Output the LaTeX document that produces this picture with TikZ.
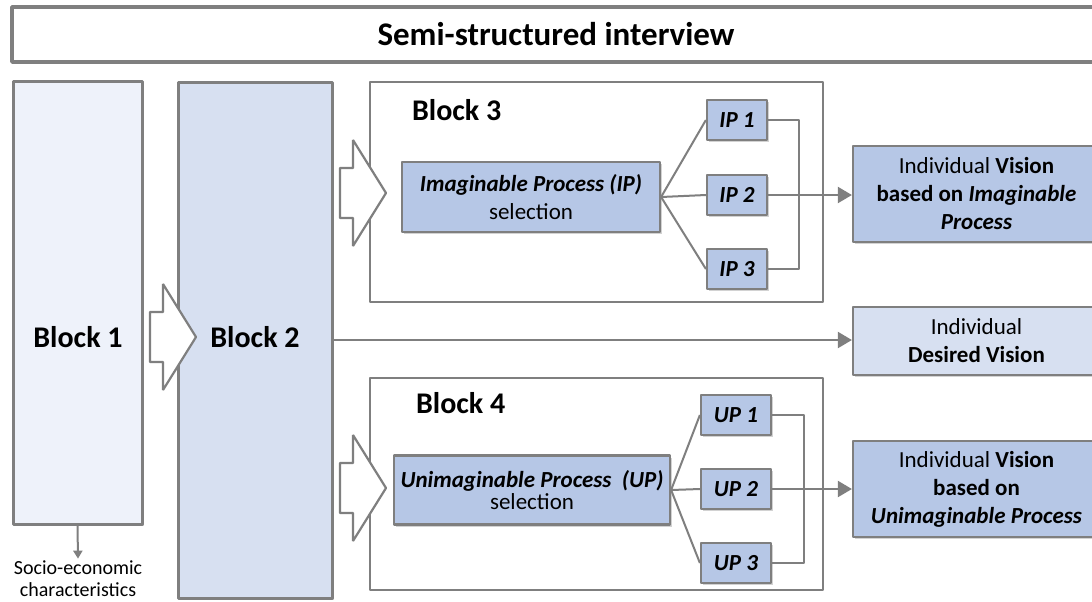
\documentclass[tikz,border=0pt]{standalone}
\usepackage{fontspec}
\setmainfont{Carlito}
\usepackage{tikz}
\usetikzlibrary{arrows.meta,shadows}

\definecolor{linecol}{HTML}{7F7F7F}
\definecolor{palefill}{HTML}{EEF2FA}
\definecolor{lightfill}{HTML}{D7E0F1}
\definecolor{midfill}{HTML}{B6C7E6}

\begin{document}
\begin{tikzpicture}[x=0.5pt,y=-0.5pt,>={Triangle[width=8pt,length=7pt]},line join=bevel,
  boxshadow/.style={drop shadow={shadow xshift=1.2pt,shadow yshift=-1.2pt,opacity=0.35}},
  blockbox/.style={draw=linecol,line width=1.5pt,inner sep=0pt,boxshadow},
  framebox/.style={draw=linecol,line width=1.2pt,fill=white,inner sep=0pt},
  procbox/.style={draw=linecol,line width=1.1pt,fill=midfill,inner sep=0pt,align=center,boxshadow,
    font=\fontsize{11.5}{14}\selectfont},
  smallbox/.style={procbox,minimum height=20pt,font=\fontsize{11.5}{14}\selectfont\bfseries\itshape},
  visionbox/.style={procbox,minimum width=123.5pt},
  blocklabel/.style={font=\fontsize{15}{17}\selectfont\bfseries},
  link/.style={draw=linecol,line width=1pt},
  bigarrow/.style={draw=linecol,line width=1.1pt,fill=white}]
\useasboundingbox (0,0) rectangle (1092,601);

% Node: title
\node[blockbox,fill=white,line width=1.6pt,minimum width=544pt,minimum height=27.5pt,
  font=\fontsize{16.5}{18}\selectfont\bfseries] (title) at (556,34.5) {Semi-structured interview};

% Node: b1
\node[blockbox,fill=palefill,minimum width=64.5pt,minimum height=221.5pt] (b1) at (77.5,302.5) {};
\node[blocklabel] (b1lbl) at (78,337) {Block 1};

% Node: b2
\node[blockbox,fill=lightfill,minimum width=77pt,minimum height=258pt] (b2) at (255,340) {};
\node[blocklabel] (b2lbl) at (255,337) {Block 2};

% Node: socio
\node[align=center,inner sep=1pt,font=\fontsize{10}{11}\selectfont] (socio) at (78,579) {Socio-economic\\characteristics};
\draw[link,-{Triangle[width=4.5pt,length=4pt]}] (b1.south) -- (socio.north);

% Node: b3
\node[framebox,minimum width=226.5pt,minimum height=110pt] (b3) at (596.5,192) {};
\node[blocklabel,anchor=west] (b3lbl) at (405,110) {Block 3};

% Node: b4
\node[framebox,minimum width=226.5pt,minimum height=106pt] (b4) at (596.5,484) {};
\node[blocklabel,anchor=west] (b4lbl) at (409,403) {Block 4};

% Node: ipsel
\node[procbox,minimum width=129pt,minimum height=35pt] (ipsel) at (531,197)
  {\textbf{\textit{Imaginable Process (IP)}}\\selection};

% Node: upsel
\node[procbox,minimum width=138pt,minimum height=34.5pt,font=\fontsize{11.5}{9.5}\selectfont] (upsel) at (532,490)
  {\textbf{\textit{Unimaginable Process~ (UP)}}\\selection};

% Nodes: ip1..ip3, up1..up3
\foreach \i/\y in {1/120,2/195,3/269}
  \node[smallbox,minimum width=30pt] (ip\i) at (737,\y) {IP \i};
\foreach \i/\y in {1/415,2/489,3/563}
  \node[smallbox,minimum width=35pt] (up\i) at (736,\y) {UP \i};

% Node: visip
\node[visionbox,minimum height=48pt] (visip) at (976.5,194)
  {Individual \textbf{Vision}\\\textbf{based on \textit{Imaginable}}\\\textbf{\textit{Process}}};

% Node: desired
\node[visionbox,fill=lightfill,minimum height=34pt] (desired) at (976.5,341)
  {Individual\\\textbf{Desired Vision}};

% Node: visup
\node[visionbox,minimum height=48pt] (visup) at (976.5,489)
  {Individual \textbf{Vision}\\\textbf{based on}\\\textbf{\textit{Unimaginable Process}}};

% Edge: sel -> ip / up
\foreach \i in {1,2,3} {
  \draw[link] (ipsel.east) -- (ip\i.west);
  \draw[link] (upsel.east) -- (up\i.west);
}

% Edge: ip -> visip
\draw[link] (ip1.east) -- ++(31,0) |- (ip3.east);
\draw[link,->] (ip2.east) -- (ip2.east -| visip.west);

% Edge: up -> visup
\draw[link] (up1.east) -- ++(32,0) |- (up3.east);
\draw[link,->] (up2.east) -- (up2.east -| visup.west);

% Edge: b2 -> desired
\draw[link,->] (b2.east) -- (b2.east -| desired.west);

% Big arrows
\foreach \x/\y in {150/337,340/193,340/488}
  \draw[bigarrow] (\x,\y-25) -- (\x+13,\y-25) -- (\x+13,\y-53) -- (\x+46,\y)
    -- (\x+13,\y+53) -- (\x+13,\y+25) -- (\x,\y+25) -- cycle;
%
\end{tikzpicture}
\end{document}
